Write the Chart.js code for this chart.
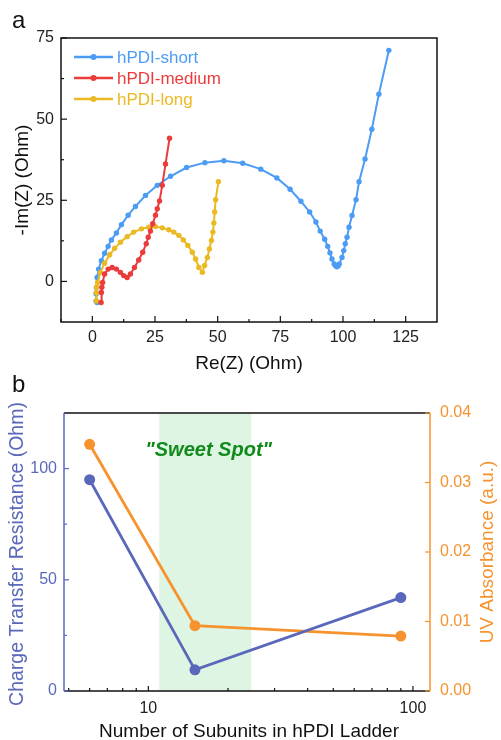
<!DOCTYPE html>
<html>
<head>
<meta charset="utf-8">
<script src="https://cdn.jsdelivr.net/npm/chart.js@4.4.1/dist/chart.umd.min.js"></script>
<style>
  html, body { margin: 0; padding: 0; background: #fff; }
  #wrap { position: relative; width: 501px; height: 740px; }
  .box { position: absolute; left: 0; width: 501px; }
  #boxA { top: 0; height: 382px; }
  #boxB { top: 370px; height: 370px; }
</style>
</head>
<body>
<div id="wrap">
  <div class="box" id="boxA"><canvas id="eisChart" width="501" height="382"></canvas></div>
  <div class="box" id="boxB"><canvas id="rctChart" width="501" height="370"></canvas></div>
</div>
<script>
// ---- panel a: Nyquist plots, Re(Z) / -Im(Z) in Ohm ----
const shortRe = [1.9, 1.5, 1.5, 1.6, 1.9, 2.5, 3.6, 4.9, 6.3, 7.6, 9.6, 11.6, 14.3, 17.2, 21.2, 25.9, 31.2, 37.6, 44.9, 52.5, 60.0, 67.2, 73.6, 78.9, 83.2, 86.7, 89.2, 90.9, 92.7, 93.9, 94.8, 95.6, 96.5, 97.0, 97.6, 98.1, 98.5, 99.6, 100.3, 100.9, 101.6, 102.4, 103.6, 105.2, 106.4, 108.8, 111.5, 114.3, 118.3];
const shortIm = [-6.5, -6.0, -3.8, -1.9, 1.2, 3.8, 6.4, 8.7, 10.8, 12.8, 14.9, 17.5, 20.4, 23.1, 26.5, 29.6, 32.4, 35.1, 36.6, 37.2, 36.4, 34.6, 31.9, 28.4, 24.7, 21.4, 18.3, 15.5, 13.0, 10.8, 8.8, 6.9, 5.4, 4.8, 4.5, 4.8, 5.4, 7.4, 9.5, 11.6, 13.6, 16.7, 20.3, 25.2, 30.7, 37.7, 46.9, 57.7, 71.2];

const mediumRe = [3.5, 3.6, 3.8, 4.1, 4.9, 6.3, 7.9, 9.6, 11.2, 12.5, 13.9, 15.2, 16.8, 18.5, 20.1, 21.5, 22.3, 23.2, 24.1, 25.2, 25.9, 26.8, 27.9, 29.2, 30.8];
const mediumIm = [-6.5, -3.4, -1.8, -0.3, 2.3, 3.8, 4.3, 3.8, 2.8, 1.8, 1.2, 2.3, 4.3, 6.6, 9.0, 11.6, 13.6, 15.5, 17.8, 20.4, 22.4, 24.8, 29.6, 36.2, 44.1];

const longRe = [1.6, 1.6, 1.7, 2.1, 3.2, 4.9, 6.9, 8.9, 11.2, 13.9, 16.5, 19.6, 22.5, 25.2, 27.9, 30.5, 32.5, 34.5, 36.3, 38.1, 39.9, 41.2, 42.5, 43.9, 44.8, 45.9, 46.7, 47.5, 48.1, 48.5, 48.8, 49.2, 50.3];
const longIm = [-6.0, -3.4, -1.8, -0.3, 2.8, 5.6, 8.2, 10.2, 12.1, 13.8, 15.2, 16.2, 16.7, 16.9, 16.5, 15.9, 15.2, 14.2, 12.8, 11.1, 9.0, 6.9, 4.3, 2.8, 4.9, 7.4, 10.0, 12.6, 15.2, 18.0, 21.4, 25.2, 30.7];

const seriesLabels = ['hPDI-short', 'hPDI-medium', 'hPDI-long'];
const reTicks = [0, 25, 50, 75, 100, 125];
const imTicks = [0, 25, 50, 75];

// ---- panel b: charge transfer resistance and UV absorbance vs ladder length ----
const subunits = [6, 15, 90];
const resistance = [95, 9.5, 42];
const absorbance = [0.0355, 0.0094, 0.0079];
const sweetSpot = [11, 24.5];

const FONT = 'Arial, "Liberation Sans", sans-serif';
const BLUE = '#4c9cf5', RED = '#ea3c3b', GOLD = '#ebb922';
const PURPLE = '#5a68bb', ORANGE = '#f6932f';

const pairs = (xs, ys) => xs.map((x, i) => ({ x: x, y: ys[i] }));

// inward tick marks, drawn on the chart area edge
function inTicks(ctx, scale, values, len, side, a) {
    values.forEach(v => {
        const p = scale.getPixelForValue(v);
        ctx.beginPath();
        if (side === 'bottom') { ctx.moveTo(p, a.bottom); ctx.lineTo(p, a.bottom - len); }
        if (side === 'left') { ctx.moveTo(a.left, p); ctx.lineTo(a.left + len, p); }
        if (side === 'right') { ctx.moveTo(a.right, p); ctx.lineTo(a.right - len, p); }
        ctx.stroke();
    });
}

function vText(ctx, text, x, y, font, color) {
    ctx.save();
    ctx.translate(x, y);
    ctx.rotate(-Math.PI / 2);
    ctx.font = font;
    ctx.fillStyle = color;
    ctx.textAlign = 'center';
    ctx.textBaseline = 'middle';
    ctx.fillText(text, 0, 0);
    ctx.restore();
}

const framePluginA = {
    id: 'frameA',
    afterDraw(chart) {
        const ctx = chart.ctx, a = chart.chartArea;
        const sx = chart.scales.x, sy = chart.scales.y;
        ctx.save();
        ctx.strokeStyle = '#111';
        ctx.lineWidth = 1.5;
        ctx.strokeRect(a.left, a.top, a.right - a.left, a.bottom - a.top);
        ctx.lineWidth = 1.2;
        inTicks(ctx, sx, reTicks, 6, 'bottom', a);
        inTicks(ctx, sx, [-12.5, 12.5, 37.5, 62.5, 87.5, 112.5], 3, 'bottom', a);
        inTicks(ctx, sy, imTicks, 6, 'left', a);
        inTicks(ctx, sy, [12.5, 37.5, 62.5], 3, 'left', a);

        // legend inside the plot
        chart.data.datasets.forEach((ds, i) => {
            const y = 57 + i * 21;
            ctx.strokeStyle = ds.borderColor;
            ctx.lineWidth = 2.5;
            ctx.beginPath(); ctx.moveTo(74, y); ctx.lineTo(113, y); ctx.stroke();
            ctx.fillStyle = ds.borderColor;
            ctx.beginPath(); ctx.arc(93.5, y, 3, 0, Math.PI * 2); ctx.fill();
            ctx.font = '17px ' + FONT;
            ctx.textAlign = 'left';
            ctx.textBaseline = 'middle';
            ctx.fillText(ds.label, 117, y + 1);
        });

        // panel letter and axis titles
        ctx.fillStyle = '#111';
        ctx.font = '24px ' + FONT;
        ctx.textAlign = 'left';
        ctx.textBaseline = 'alphabetic';
        ctx.fillText('a', 12, 28);
        ctx.font = '19px ' + FONT;
        ctx.textAlign = 'center';
        ctx.textBaseline = 'middle';
        ctx.fillText('Re(Z) (Ohm)', 249, 364);
        vText(ctx, '-Im(Z) (Ohm)', 23, 180, '19px ' + FONT, '#111');
        ctx.restore();
    }
};

new Chart(document.getElementById('eisChart'), {
    type: 'scatter',
    data: {
        datasets: [
            { label: seriesLabels[0], data: pairs(shortRe, shortIm), borderColor: BLUE, backgroundColor: BLUE, order: 3 },
            { label: seriesLabels[1], data: pairs(mediumRe, mediumIm), borderColor: RED, backgroundColor: RED, order: 1 },
            { label: seriesLabels[2], data: pairs(longRe, longIm), borderColor: GOLD, backgroundColor: GOLD, order: 2 }
        ].map(ds => Object.assign(ds, { showLine: true, borderWidth: 2, pointRadius: 2.7, pointBorderWidth: 0, tension: 0 }))
    },
    options: {
        responsive: false,
        animation: false,
        layout: { padding: { top: 38, right: 64, left: 0, bottom: 0 } },
        plugins: { legend: { display: false }, tooltip: { enabled: false } },
        scales: {
            x: {
                type: 'linear', min: -12.5, max: 137.5,
                afterBuildTicks: s => { s.ticks = reTicks.map(v => ({ value: v })); },
                ticks: { padding: 6, color: '#222', font: { family: FONT, size: 16 } },
                grid: { display: false, drawTicks: false },
                border: { display: false },
                afterFit: s => { s.height = 60; }
            },
            y: {
                type: 'linear', min: -12.5, max: 75,
                afterBuildTicks: s => { s.ticks = imTicks.map(v => ({ value: v })); },
                ticks: { padding: 7, color: '#222', font: { family: FONT, size: 16 } },
                grid: { display: false, drawTicks: false },
                border: { display: false },
                afterFit: s => { s.width = 61; }
            }
        }
    },
    plugins: [framePluginA]
});

const framePluginB = {
    id: 'frameB',
    beforeDatasetsDraw(chart) {
        const ctx = chart.ctx, a = chart.chartArea, sx = chart.scales.x;
        const x0 = sx.getPixelForValue(sweetSpot[0]), x1 = sx.getPixelForValue(sweetSpot[1]);
        ctx.save();
        ctx.fillStyle = '#def5e3';
        ctx.fillRect(x0, a.top, x1 - x0, a.bottom - a.top);
        ctx.fillStyle = '#118a1c';
        ctx.font = 'italic bold 20px ' + FONT;
        ctx.textAlign = 'center';
        ctx.textBaseline = 'middle';
        ctx.fillText('"Sweet Spot"', sx.getPixelForValue(16.9), chart.scales.y.getPixelForValue(108));
        ctx.restore();
    },
    afterDraw(chart) {
        const ctx = chart.ctx, a = chart.chartArea;
        const sx = chart.scales.x, sy = chart.scales.y, sy1 = chart.scales.y1;
        ctx.save();
        ctx.lineWidth = 1.5;
        ctx.strokeStyle = '#111';
        ctx.beginPath();
        ctx.moveTo(a.left, a.top); ctx.lineTo(a.right, a.top);
        ctx.moveTo(a.left, a.bottom); ctx.lineTo(a.right, a.bottom);
        ctx.stroke();
        ctx.strokeStyle = PURPLE;
        ctx.beginPath(); ctx.moveTo(a.left, a.top); ctx.lineTo(a.left, a.bottom); ctx.stroke();
        ctx.strokeStyle = ORANGE;
        ctx.beginPath(); ctx.moveTo(a.right, a.top); ctx.lineTo(a.right, a.bottom); ctx.stroke();

        ctx.lineWidth = 1.2;
        ctx.strokeStyle = '#111';
        inTicks(ctx, sx, [10, 100], 5, 'bottom', a);
        inTicks(ctx, sx, [5, 6, 7, 8, 9, 20, 30, 40, 50, 60, 70, 80, 90], 3, 'bottom', a);
        ctx.strokeStyle = PURPLE;
        inTicks(ctx, sy, [0, 50, 100], 5, 'left', a);
        inTicks(ctx, sy, [25, 75], 3, 'left', a);
        ctx.strokeStyle = ORANGE;
        inTicks(ctx, sy1, [0, 0.01, 0.02, 0.03, 0.04], 5, 'right', a);

        ctx.fillStyle = '#111';
        ctx.font = '24px ' + FONT;
        ctx.textAlign = 'left';
        ctx.textBaseline = 'alphabetic';
        ctx.fillText('b', 12, 22);
        ctx.font = '19px ' + FONT;
        ctx.textAlign = 'center';
        ctx.textBaseline = 'middle';
        ctx.fillText('Number of Subunits in hPDI Ladder', 249, 362);
        vText(ctx, 'Charge Transfer Resistance (Ohm)', 18, 184, '19.5px ' + FONT, PURPLE);
        vText(ctx, 'UV Absorbance (a.u.)', 488, 182, '19px ' + FONT, ORANGE);
        ctx.restore();
    }
};

new Chart(document.getElementById('rctChart'), {
    type: 'scatter',
    data: {
        datasets: [
            { label: 'Charge Transfer Resistance', data: pairs(subunits, resistance), yAxisID: 'y', borderColor: PURPLE, backgroundColor: PURPLE },
            { label: 'UV Absorbance', data: pairs(subunits, absorbance), yAxisID: 'y1', borderColor: ORANGE, backgroundColor: ORANGE }
        ].map(ds => Object.assign(ds, { showLine: true, borderWidth: 2.8, pointRadius: 5.5, pointBorderWidth: 0, tension: 0 }))
    },
    options: {
        responsive: false,
        animation: false,
        layout: { padding: { top: 43, right: 0, left: 0, bottom: 0 } },
        plugins: { legend: { display: false }, tooltip: { enabled: false } },
        scales: {
            x: {
                type: 'logarithmic', min: 4.8, max: 116,
                ticks: {
                    autoSkip: false, maxRotation: 0, padding: 8, color: '#222', font: { family: FONT, size: 16 },
                    callback: v => (v === 10 || v === 100) ? String(v) : ''
                },
                grid: { display: false, drawTicks: false },
                border: { display: false },
                afterFit: s => { s.height = 49; }
            },
            y: {
                type: 'linear', position: 'left', min: 0, max: 125,
                ticks: { stepSize: 50, includeBounds: false, padding: 7, color: PURPLE, font: { family: FONT, size: 16 } },
                grid: { display: false, drawTicks: false },
                border: { display: false },
                afterFit: s => { s.width = 64; }
            },
            y1: {
                type: 'linear', position: 'right', min: 0, max: 0.04,
                ticks: { stepSize: 0.01, padding: 10, color: ORANGE, font: { family: FONT, size: 16 }, callback: v => Number(v).toFixed(2) },
                grid: { display: false, drawTicks: false },
                border: { display: false },
                afterFit: s => { s.width = 71; }
            }
        }
    },
    plugins: [framePluginB]
});
</script>
</body>
</html>
